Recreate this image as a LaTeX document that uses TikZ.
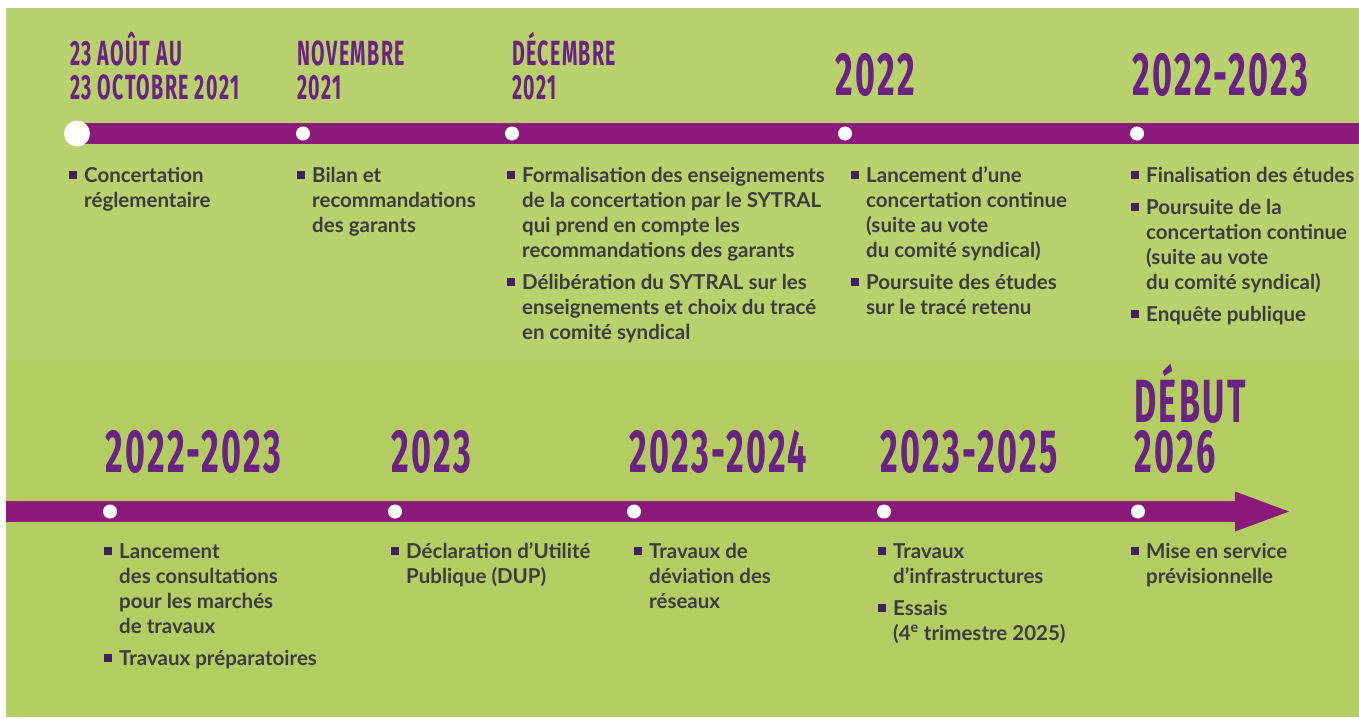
\documentclass[tikz,border=0pt]{standalone}
\usepackage{fontspec}
\setmainfont{Lato}
\newfontfamily\hdfont[FakeStretch=0.56,LetterSpace=4]{Fira Sans}
\definecolor{gtop}{HTML}{B8D16C}
\definecolor{gbot}{HTML}{B3CD63}
\definecolor{barc}{HTML}{8C1A7B}
\definecolor{headc}{HTML}{6A2382}
\definecolor{txtc}{HTML}{3C3C3C}
\definecolor{bulc}{HTML}{40205F}
\newcommand{\bu}{\par\noindent\hangindent=15pt\hangafter=1\makebox[15pt][l]{\textcolor{bulc}{\rule[3pt]{8pt}{8pt}}}}
\newcommand{\gapi}{\par\vspace{7pt}}
\newcommand{\colbox}[2]{\parbox[t]{#1}{\fontsize{20.5}{25}\selectfont\bfseries\parskip=0pt #2}}
\tikzset{
  headsm/.style={anchor=base west, inner sep=0, text=headc, font=\hdfont\bfseries\fontsize{35}{34}\selectfont},
  headbig/.style={anchor=base west, inner sep=0, text=headc, font=\hdfont\bfseries\fontsize{61}{50}\selectfont},
  items/.style={anchor=base west, inner sep=0, text=txtc},
  dot/.style={circle, fill=white, inner sep=0, minimum size=14pt},
  bigdot/.style={circle, fill=white, inner sep=0, minimum size=26pt},
  barline/.style={draw=barc, line width=21pt},
}
\begin{document}
\begin{tikzpicture}[x=1pt,y=-1pt]
\useasboundingbox (0,0) rectangle (1359,718);
\fill[white] (0,0) rectangle (1359,718);
\fill[gtop] (6,8) rectangle (1359,360);
\fill[gbot] (6,360) rectangle (1359,717);

% top timeline
\coordinate (tstart) at (77,133.5);
\coordinate (tend) at (1359,133.5);
\draw[barline] (tstart) -- (tend);
\node[bigdot] (d1) at (77,133.5) {};
\node[dot] (d2) at (303,133.5) {};
\node[dot] (d3) at (512,133.5) {};
\node[dot] (d4) at (845,133.5) {};
\node[dot] (d5) at (1137,133.5) {};

% bottom timeline
\coordinate (bstart) at (6,511.5);
\coordinate (bend) at (1236,511.5);
\draw[barline] (bstart) -- (bend);
\fill[barc] (1235,491.5) -- (1289,511.5) -- (1235,531.5) -- cycle;
\node[dot] (e1) at (110,511.5) {};
\node[dot] (e2) at (395,511.5) {};
\node[dot] (e3) at (634,511.5) {};
\node[dot] (e4) at (884,511.5) {};
\node[dot] (e5) at (1138,511.5) {};

% top headings
\node[headsm] (h1) at (70,65) {\parbox[t]{250pt}{23 AOÛT AU\\23 OCTOBRE 2021}};
\node[headsm] (h2) at (297,65) {\parbox[t]{200pt}{NOVEMBRE\\2021}};
\node[headsm] (h3) at (512,65) {\parbox[t]{200pt}{DÉCEMBRE\\2021}};
\node[headbig] (h4) at (835,95) {2022};
\node[headbig] (h5) at (1132,95) {2022-2023};

% top items
\node[items] (t1) at (69,182) {\colbox{200pt}{\bu Concertation\\réglementaire}};
\node[items] (t2) at (297,182) {\colbox{200pt}{\bu Bilan et\\recommandations\\des garants}};
\node[items] (t3) at (507,182) {\colbox{340pt}{\bu Formalisation des enseignements\\de la concertation par le SYTRAL\\qui prend en compte les\\recommandations des garants\gapi
\bu Délibération du SYTRAL sur les\\enseignements et choix du tracé\\en comité syndical}};
\node[items] (t4) at (851,182) {\colbox{270pt}{\bu Lancement d’une\\concertation continue\\(suite au vote\\du comité syndical)\gapi
\bu Poursuite des études\\sur le tracé retenu}};
\node[items] (t5) at (1131,182) {\colbox{240pt}{\bu Finalisation des études\gapi
\bu Poursuite de la\\concertation continue\\(suite au vote\\du comité syndical)\gapi
\bu Enquête publique}};

% bottom headings
\node[headbig] (g1) at (105,472) {2022-2023};
\node[headbig] (g2) at (391,472) {2023};
\node[headbig] (g3) at (629,472) {2023-2024};
\node[headbig] (g4) at (880,472) {2023-2025};
\node[headbig] (g5) at (1134,422) {\parbox[t]{200pt}{DÉBUT\\2026}};

% bottom items
\node[items] (b1) at (104,558) {\colbox{260pt}{\bu Lancement\\des consultations\\pour les marchés\\de travaux\gapi
\bu Travaux préparatoires}};
\node[items] (b2) at (391,558) {\colbox{240pt}{\bu Déclaration d’Utilité\\Publique (DUP)}};
\node[items] (b3) at (634,558) {\colbox{220pt}{\bu Travaux de\\déviation des\\réseaux}};
\node[items] (b4) at (878,558) {\colbox{240pt}{\bu Travaux\\d’infrastructures\gapi
\bu Essais\\(4\textsuperscript{e} trimestre 2025)}};
\node[items] (b5) at (1131,558) {\colbox{220pt}{\bu Mise en service\\prévisionnelle}};
\end{tikzpicture}
\end{document}
